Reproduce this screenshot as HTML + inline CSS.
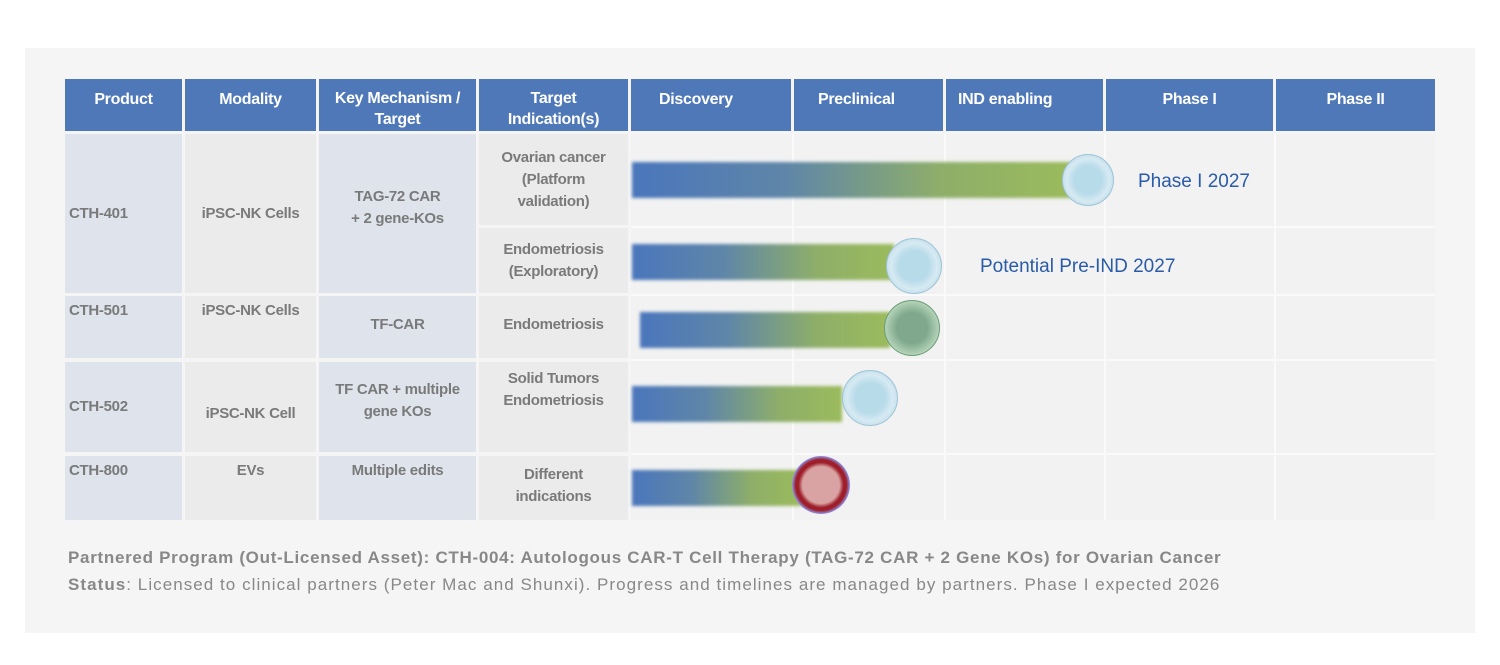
<!DOCTYPE html>
<html><head><meta charset="utf-8"><style>
*{margin:0;padding:0;box-sizing:border-box}
body{width:1500px;height:665px;background:#fff;position:relative;overflow:hidden;font-family:"Liberation Sans",sans-serif}
.panel{position:absolute;left:25px;top:48px;width:1450px;height:585px;background:#f5f5f5}
.c{position:absolute;display:flex;align-items:center;justify-content:center;text-align:center;font-weight:bold;font-size:15px;color:#7a7a7a;line-height:22px;letter-spacing:-0.3px}
.h{background:#4f78b8;color:#fff;font-size:16px;line-height:21px}
.b{background:#dfe4ec}.g{background:#ebebeb}.t{background:#f2f2f2}
.bar{position:absolute;height:36px;background:linear-gradient(90deg,#4a76bc 0%,#5f86a8 35%,#8eae6a 70%,#9bbb5c 100%);filter:blur(1.5px)}
.cell{position:absolute;border-radius:50%}
.lbl{position:absolute;color:#2a5ba8;font-size:19px}
.foot{position:absolute;left:68px;font-size:17px;color:#888}
</style></head><body>
<div class="panel"></div>
<div class="c h" style="left:65px;top:79px;width:117px;height:52px;align-items:flex-start;padding-top:10px">Product</div>
<div class="c h" style="left:185px;top:79px;width:131px;height:52px;align-items:flex-start;padding-top:10px">Modality</div>
<div class="c h" style="left:319px;top:79px;width:157px;height:52px;padding-top:8px">Key Mechanism /<br>Target</div>
<div class="c h" style="left:479px;top:79px;width:149px;height:52px;padding-top:8px">Target<br>Indication(s)</div>
<div class="c h" style="left:631px;top:79px;width:160px;height:52px;align-items:flex-start;justify-content:flex-start;padding:10px 0 0 28px">Discovery</div>
<div class="c h" style="left:794px;top:79px;width:149px;height:52px;align-items:flex-start;justify-content:flex-start;padding:10px 0 0 24px">Preclinical</div>
<div class="c h" style="left:946px;top:79px;width:157px;height:52px;align-items:flex-start;justify-content:flex-start;padding:10px 0 0 12px">IND enabling</div>
<div class="c h" style="left:1106px;top:79px;width:167px;height:52px;align-items:flex-start;padding-top:10px">Phase I</div>
<div class="c h" style="left:1276px;top:79px;width:159px;height:52px;align-items:flex-start;padding-top:10px">Phase II</div>
<div class="c b" style="left:65px;top:134px;width:117px;height:159px;justify-content:flex-start;padding-left:4px">CTH-401</div>
<div class="c g" style="left:185px;top:134px;width:131px;height:159px">iPSC-NK Cells</div>
<div class="c b" style="left:319px;top:134px;width:157px;height:159px;padding-bottom:12px">TAG-72 CAR<br>+ 2 gene-KOs</div>
<div class="c g" style="left:479px;top:134px;width:149px;height:91px">Ovarian cancer<br>(Platform<br>validation)</div>
<div class="c g" style="left:479px;top:228px;width:149px;height:65px">Endometriosis<br>(Exploratory)</div>
<div class="c b" style="left:65px;top:296px;width:117px;height:62px;justify-content:flex-start;align-items:flex-start;padding:4px 0 0 4px">CTH-501</div>
<div class="c g" style="left:185px;top:296px;width:131px;height:62px;align-items:flex-start;padding-top:4px">iPSC-NK Cells</div>
<div class="c b" style="left:319px;top:296px;width:157px;height:62px;padding-bottom:4px">TF-CAR</div>
<div class="c g" style="left:479px;top:296px;width:149px;height:62px;padding-bottom:4px">Endometriosis</div>
<div class="c b" style="left:65px;top:362px;width:117px;height:90px;justify-content:flex-start;padding-left:4px">CTH-502</div>
<div class="c g" style="left:185px;top:362px;width:131px;height:90px;padding-top:14px">iPSC-NK Cell</div>
<div class="c b" style="left:319px;top:362px;width:157px;height:90px;padding-bottom:12px">TF CAR + multiple<br>gene KOs</div>
<div class="c g" style="left:479px;top:362px;width:149px;height:90px;align-items:flex-start;padding-top:6px">Solid Tumors<br>Endometriosis</div>
<div class="c b" style="left:65px;top:456px;width:117px;height:64px;justify-content:flex-start;align-items:flex-start;padding:4px 0 0 4px">CTH-800</div>
<div class="c g" style="left:185px;top:456px;width:131px;height:64px;align-items:flex-start;padding-top:4px">EVs</div>
<div class="c b" style="left:319px;top:456px;width:157px;height:64px;align-items:flex-start;padding-top:4px">Multiple edits</div>
<div class="c g" style="left:479px;top:456px;width:149px;height:64px;padding-bottom:4px">Different<br>indications</div>
<div style="position:absolute;left:631px;top:134px;width:804px;height:386px;background:#f2f2f2"></div>
<div style="position:absolute;left:792px;top:134px;width:2px;height:386px;background:#fafafa"></div>
<div style="position:absolute;left:944px;top:134px;width:2px;height:386px;background:#fafafa"></div>
<div style="position:absolute;left:1104px;top:134px;width:2px;height:386px;background:#fafafa"></div>
<div style="position:absolute;left:1274px;top:134px;width:2px;height:386px;background:#fafafa"></div>
<div style="position:absolute;left:631px;top:226px;width:804px;height:2px;background:#fafafa"></div>
<div style="position:absolute;left:631px;top:294px;width:804px;height:2px;background:#fafafa"></div>
<div style="position:absolute;left:631px;top:359px;width:804px;height:2px;background:#fafafa"></div>
<div style="position:absolute;left:631px;top:453px;width:804px;height:2px;background:#fafafa"></div>
<div class="bar" style="left:632px;top:162px;width:440px"></div>
<div class="bar" style="left:632px;top:244px;width:262px"></div>
<div class="bar" style="left:640px;top:312px;width:250px"></div>
<div class="bar" style="left:632px;top:386px;width:210px"></div>
<div class="bar" style="left:632px;top:470px;width:170px"></div>
<div class="cell" style="left:1062px;top:154px;width:52px;height:52px;background:radial-gradient(circle,#b8dbea 40%,#d6eaf2 60%,#a9cde0 100%);border:1px solid #9cc3d8"></div>
<div class="cell" style="left:886px;top:238px;width:56px;height:56px;background:radial-gradient(circle,#b8dbea 40%,#d6eaf2 60%,#a9cde0 100%);border:1px solid #9cc3d8"></div>
<div class="cell" style="left:884px;top:300px;width:56px;height:56px;background:radial-gradient(circle,#7fa88c 40%,#b3d3b8 70%,#7fae8a 100%);border:1px solid #6c9c78"></div>
<div class="cell" style="left:842px;top:370px;width:56px;height:56px;background:radial-gradient(circle,#b8dbea 40%,#d6eaf2 60%,#a9cde0 100%);border:1px solid #9cc3d8"></div>
<div class="cell" style="left:792px;top:456px;width:58px;height:58px;background:radial-gradient(circle,#d9a3a3 45%,#9e1f2a 55%,#9e1f2a 62%,#8f8fe0 70%,#a5a5ea 100%)"></div>
<div class="lbl" style="left:1138px;top:171px">Phase I 2027</div>
<div class="lbl" style="left:980px;top:256px">Potential Pre-IND 2027</div>
<div class="foot" style="top:548px;font-weight:bold;letter-spacing:0.7px">Partnered Program (Out-Licensed Asset): CTH-004: Autologous CAR-T Cell Therapy (TAG-72 CAR + 2 Gene KOs) for Ovarian Cancer</div>
<div class="foot" style="top:575px;letter-spacing:1.05px"><b>Status</b>: Licensed to clinical partners (Peter Mac and Shunxi). Progress and timelines are managed by partners. Phase I expected 2026</div>
</body></html>
